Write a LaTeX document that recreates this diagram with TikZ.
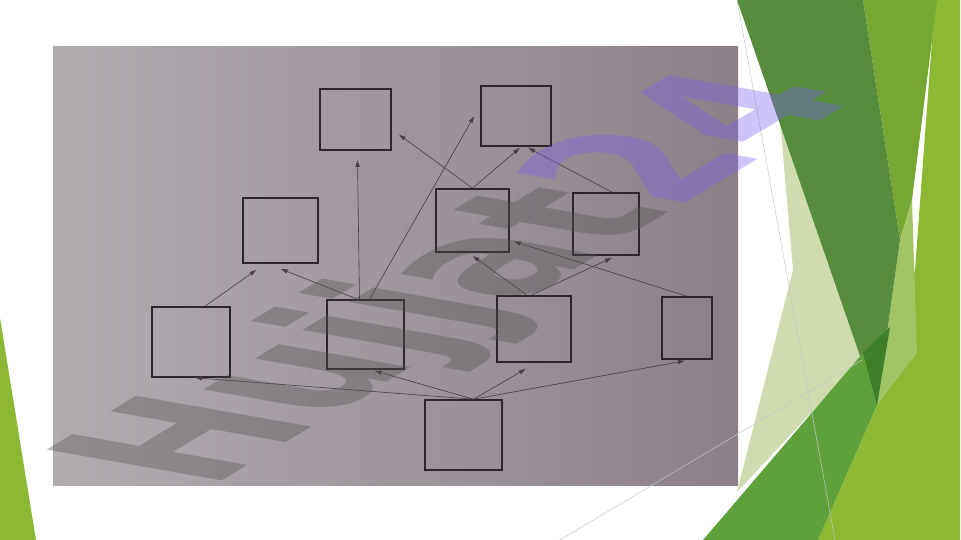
\documentclass[tikz,border=0pt]{standalone}
\usepackage{fontspec}
\usepackage{xcolor}
\usepackage{tikz}
\usetikzlibrary{arrows.meta,positioning,calc}
\newfontfamily\markfont{DejaVu Sans}

\definecolor{paperL}{HTML}{B2ACB1}
\definecolor{paperR}{HTML}{8C8088}
\definecolor{boxline}{HTML}{2E262C}
\definecolor{arrowline}{HTML}{463E44}
\definecolor{gLight}{HTML}{8CB834}
\definecolor{gOlive}{HTML}{77A733}
\definecolor{gPaleOlive}{HTML}{A3C465}
\definecolor{gDark}{HTML}{578C3C}
\definecolor{gDeep}{HTML}{3F7F2A}
\definecolor{gMid}{HTML}{5EA13A}
\definecolor{gPale}{HTML}{D0DCB0}
\definecolor{markGray}{HTML}{505050}
\definecolor{markPurple}{HTML}{7B5CF0}

\begin{document}
\begin{tikzpicture}[x=1pt, y=-1pt,
    box/.style={draw=boxline, line width=1.6pt, inner sep=0pt},
    arr/.style={-{Latex[length=7pt,width=4.5pt]}, draw=arrowline, line width=0.6pt},
    hairline/.style={draw=gray!45, line width=0.5pt},
    stampstyle/.style={font=\markfont\bfseries\fontsize{160}{165}\selectfont, text opacity=0.36, inner sep=0pt}]

    % Slide
    \useasboundingbox (0,0) rectangle (961,540);
    \fill[white] (0,0) rectangle (961,540);

    % Photo of the page
    \fill[left color=paperL, right color=paperR] (53,47) rectangle (738,485);

    % Boxes
    \node[box, minimum width=71pt, minimum height=61pt] (topL) at (355.5,119.5) {};
    \node[box, minimum width=70pt, minimum height=60pt] (topR) at (516,116) {};
    \node[box, minimum width=75pt, minimum height=65pt] (midL) at (280.5,230.5) {};
    \node[box, minimum width=73pt, minimum height=63pt] (midC) at (472.5,220.5) {};
    \node[box, minimum width=66pt, minimum height=62pt] (midR) at (606,224) {};
    \node[box, minimum width=78pt, minimum height=70pt] (botL) at (191,342) {};
    \node[box, minimum width=77pt, minimum height=69pt] (botCL) at (365.5,334.5) {};
    \node[box, minimum width=74pt, minimum height=66pt] (botCR) at (534,329) {};
    \node[box, minimum width=50pt, minimum height=62pt] (botR) at (687,328) {};
    \node[box, minimum width=77pt, minimum height=70pt] (base) at (463.5,435) {};

    % Arrows into the middle row
    \draw[arr] ([xshift=14pt]botL.north) -- ([xshift=-24pt,yshift=-6pt]midL.south);
    \draw[arr] ([xshift=-8pt]botCL.north) -- ([yshift=-5pt]midL.south);
    \draw[arr] ([xshift=-7pt]botCR.north) -- ([yshift=-3pt]midC.south);
    \draw[arr] ([xshift=-3pt]botCR.north) -- ([xshift=6pt,yshift=-2pt]midR.south);
    \draw[arr] (botR.north) -- ([xshift=4pt,yshift=-21pt]midC.east);

    % Arrows into the top row
    \draw[arr] ([xshift=-6pt]botCL.north) -- ([xshift=2pt,yshift=-9pt]topL.south);
    \draw[arr] ([xshift=4pt]botCL.north) -- ([xshift=-6pt]topR.west);
    \draw[arr] (midC.north) -- ([xshift=7pt,yshift=-15pt]topL.east);
    \draw[arr] (midC.north) -- ([xshift=4pt,yshift=-1pt]topR.south);
    \draw[arr] ([xshift=6pt]midR.north) -- ([xshift=12pt,yshift=-1pt]topR.south);

    % Arrows from the bottom box
    \coordinate (baseTop) at ([xshift=10pt]base.north);
    \draw[arr] (baseTop) -- ([xshift=4pt]botL.south);
    \draw[arr] (baseTop) -- ([xshift=9pt,yshift=-1pt]botCL.south);
    \draw[arr] (baseTop) -- ([xshift=-8pt,yshift=-6pt]botCR.south);
    \draw[arr] (baseTop) -- ([xshift=-2pt,yshift=-1pt]botR.south);

    % Slide facets, right
    \fill[gLight] (935,0) -- (960,0) -- (960,540) -- (818,540) -- (877,405) -- (915,270) -- cycle;
    \fill[gOlive] (863,0) -- (937,0) -- (912,200) -- (900,240) -- cycle;
    \fill[gPaleOlive] (900,240) -- (912,200) -- (917,353) -- (877,405) -- cycle;
    \fill[gPale] (780,120) -- (865,355) -- (737,492) -- (793,270) -- cycle;
    \fill[gDark] (737,0) -- (863,0) -- (900,240) -- (877,405) -- cycle;
    \fill[gMid] (703,540) -- (863,353) -- (877,405) -- (818,540) -- cycle;
    \fill[gDeep] (863,353) -- (890,327) -- (877,405) -- cycle;
    \draw[hairline] (737,0) -- (835,540);
    \draw[hairline] (560,540) -- (862,360);

    % Slide facet, left
    \fill[gLight] (0,318) -- (36,540) -- (0,540) -- cycle;

    % Watermark
    \node[stampstyle, rotate=31, xslant=-1.15] (stamp) at (472,280)
        {\textcolor{markGray}{Hujjat}\textcolor{markPurple}{24}};
\end{tikzpicture}
\end{document}
